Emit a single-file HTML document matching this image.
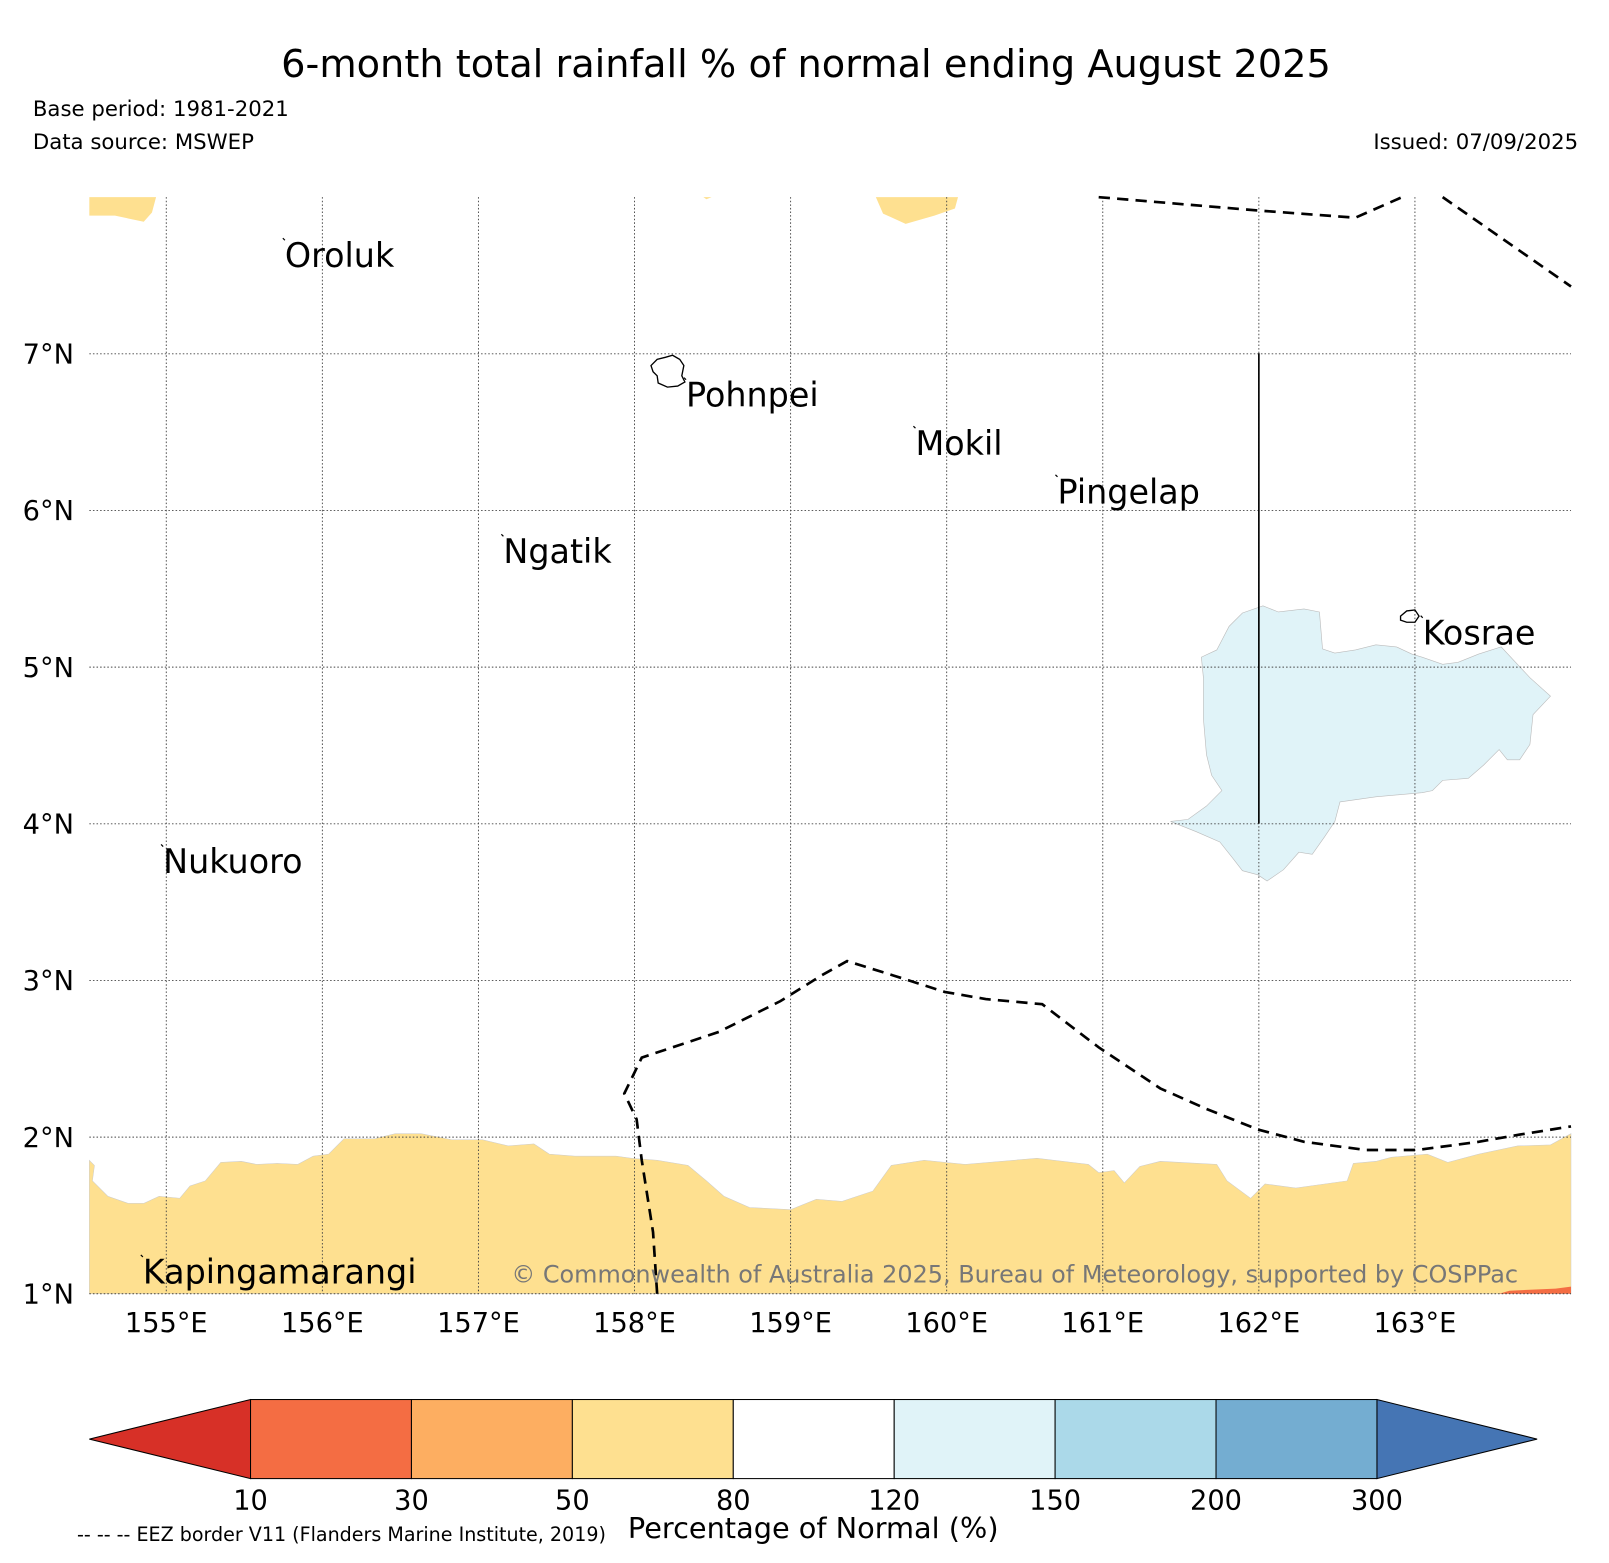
<!DOCTYPE html>
<html><head><meta charset="utf-8"><style>html,body{margin:0;padding:0;background:#fff}svg{display:block}text{font-family:"DejaVu Sans","Liberation Sans",sans-serif}</style></head>
<body>
<svg id="chart" width="1609" height="1563" viewBox="0 0 1567 1522.2" xmlns="http://www.w3.org/2000/svg">
<rect width="1567" height="1522.2" fill="#fff"/>
<text x="785" y="75" font-size="37.3" text-anchor="middle">6-month total rainfall % of normal ending August 2025</text>
<text x="32" y="113" font-size="20.7">Base period: 1981-2021</text>
<text x="32" y="145" font-size="20.7">Data source: MSWEP</text>
<text x="1537" y="145" font-size="20.7" text-anchor="end">Issued: 07/09/2025</text>
<g id="map"></g>
<g id="cbar"></g>
<text x="792" y="1498" font-size="28" text-anchor="middle">Percentage of Normal (%)</text>
<text x="75" y="1501" font-size="18.6">-- -- -- EEZ border V11 (Flanders Marine Institute, 2019)</text>
</svg>
<script>
const lonTicks=[155,156,157,158,159,160,161,162,163];
const latTicks=[7,6,5,4,3,2,1];
const cbLevels=[10,30,50,80,120,150,200,300];
const cbColors=["#f46d43","#fdae61","#fee090","#ffffff","#e0f3f8","#abd9e9","#74add1"];
const cbUnder="#d73027", cbOver="#4575b4";
const islands=[["Oroluk",155.76,7.62],["Pohnpei",158.33,6.73],["Mokil",159.8,6.42],["Pingelap",160.71,6.11],["Ngatik",157.16,5.73],["Kosrae",163.05,5.21],["Nukuoro",154.98,3.75],["Kapingamarangi",154.85,1.13]];
const NS="http://www.w3.org/2000/svg";
const X0=87,X1=1530,Y0=192,Y1=1260,LON0=154.507,LON1=164.0,LAT0=1.0,LAT1=8.0;
const xs=l=>X0+(l-LON0)/(LON1-LON0)*(X1-X0);
const ys=l=>Y1-(l-LAT0)/(LAT1-LAT0)*(Y1-Y0);
const map=document.getElementById('map');
function mk(tag,attrs,parent){const e=document.createElementNS(NS,tag);for(const k in attrs)e.setAttribute(k,attrs[k]);(parent||map).appendChild(e);return e;}
const yellowBand=[[87,1130],[92,1135],[90,1150],[105,1165],[125,1172],[140,1172],[155,1165],[175,1167],[185,1155],[200,1150],[215,1132],[235,1131],[250,1134],[270,1133],[290,1134],[305,1126],[320,1124],[335,1109],[365,1109],[385,1104],[410,1104],[440,1110],[470,1110],[495,1116],[520,1114],[535,1124],[560,1126],[600,1126],[615,1128],[640,1130],[670,1135],[688,1150],[705,1165],[730,1176],[770,1178],[795,1168],[820,1170],[850,1160],[868,1135],[900,1130],[940,1134],[1010,1128],[1060,1134],[1070,1142],[1085,1140],[1095,1152],[1110,1136],[1130,1131],[1185,1134],[1195,1150],[1218,1167],[1232,1153],[1262,1157],[1312,1150],[1318,1133],[1340,1131],[1355,1127],[1390,1124],[1410,1132],[1440,1124],[1478,1116],[1510,1115],[1530,1104],[1530,1260],[87,1260]];
const yellowTL=[[87,192],[152,192],[148,207],[140,216],[112,210],[87,210]];
const yellowTC=[[837,192],[933,192],[930,203],[910,210],[882,218],[860,208],[853,192]];
const blueBlob=[[1140,800],[1157,798],[1175,785],[1190,770],[1180,755],[1175,735],[1172,700],[1172,660],[1170,640],[1185,633],[1197,610],[1210,597],[1230,590],[1245,596],[1270,593],[1285,596],[1288,632],[1300,636],[1320,633],[1340,628],[1360,630],[1375,637],[1385,640],[1405,647],[1420,645],[1440,637],[1462,630],[1490,660],[1510,678],[1493,696],[1490,725],[1480,740],[1468,740],[1460,730],[1445,745],[1430,758],[1405,760],[1395,770],[1385,772],[1340,776],[1305,781],[1300,800],[1290,815],[1278,832],[1265,830],[1250,847],[1234,858],[1225,852],[1210,848],[1200,835],[1188,820],[1165,810]];
const eezTop1=[[1070,192],[1225,205],[1320,212],[1370,190]];
const eezTop2=[[1405,192],[1530,279]];
const eezBottom=[[640,1260],[636,1200],[625,1130],[620,1090],[608,1065],[625,1030],[700,1005],[760,975],[800,950],[825,936],[870,950],[920,966],[960,973],[1015,978],[1070,1020],[1130,1060],[1175,1080],[1225,1100],[1270,1112],[1330,1120],[1380,1120],[1440,1112],[1480,1105],[1530,1097]];
const pts=a=>a.map(p=>p.join(',')).join(' ');
let p;
p=mk('polygon',{points:pts(yellowBand),fill:'#fee090',stroke:'#ccc','stroke-width':0.5});

p=mk('polygon',{points:pts(yellowTL),fill:'#fee090'});

p=mk('polygon',{points:pts(yellowTC),fill:'#fee090'});

p=mk('polygon',{points:'685,192 693,192 688,194',fill:'#fee090'});

p=mk('polygon',{points:'1460,1260 1470,1257 1515,1255 1530,1253 1530,1260',fill:'#f46d43'});

p=mk('polygon',{points:pts(blueBlob),fill:'#e0f3f8',stroke:'#bbb','stroke-width':0.6});

lonTicks.forEach(l=>{
 const g=mk('line',{x1:xs(l),x2:xs(l),y1:Y0,y2:Y1,stroke:'#444','stroke-width':0.9,'stroke-dasharray':'1.5,2'});
 
 const t=mk('text',{x:xs(l),y:1297,'font-size':26.5,'text-anchor':'middle'});t.textContent=l+'°E';
 
});
latTicks.forEach(l=>{
 const g=mk('line',{x1:X0,x2:X1,y1:ys(l),y2:ys(l),stroke:'#444','stroke-width':0.9,'stroke-dasharray':'1.5,2'});
 
 const t=mk('text',{x:72,y:ys(l)+9.5,'font-size':26.5,'text-anchor':'end'});t.textContent=l+'°N';
 
});
p=mk('line',{x1:1226,x2:1226,y1:344,y2:802,stroke:'#000','stroke-width':1.6});

[eezTop1,eezTop2,eezBottom].forEach((a,i)=>{
 const e=mk('polyline',{points:pts(a),fill:'none',stroke:'#000','stroke-width':2.6,'stroke-dasharray':'11,7'});
 
});
p=mk('polygon',{points:'634,356 640,350 648,348 655,346 662,350 666,356 664,366 667,372 660,376 650,377 641,373 640,366 636,362',fill:'none',stroke:'#000','stroke-width':1.3});

p=mk('polygon',{points:'1364,600 1370,595 1378,594 1382,600 1378,606 1370,606 1364,604',fill:'none',stroke:'#000','stroke-width':1.3});

islands.forEach(d=>{
 const t=mk('text',{x:xs(d[1]),y:ys(d[2])+10,'font-size':32.5});t.textContent=d[0];
 
 const m=mk('line',{x1:xs(d[1])-2,y1:ys(d[2])-18,x2:xs(d[1]),y2:ys(d[2])-16,stroke:'#000','stroke-width':1.2});
 
});
p=mk('text',{x:498,y:1249,'font-size':23.3,fill:'#777'});p.textContent='© Commonwealth of Australia 2025, Bureau of Meteorology, supported by COSPPac';

const cb=document.getElementById('cbar');
const CB0=244,CB1=1341,CT=1363,CBt=1440,n=cbColors.length,w=(CB1-CB0)/n,mid=(CT+CBt)/2;
p=mk('polygon',{points:`87,${mid} ${CB0},${CT} ${CB0},${CBt}`,fill:cbUnder,stroke:'#000','stroke-width':1},cb);

p=mk('polygon',{points:`1497,${mid} ${CB1},${CT} ${CB1},${CBt}`,fill:cbOver,stroke:'#000','stroke-width':1},cb);

cbColors.forEach((c,i)=>{
 const r=mk('rect',{x:CB0+i*w,y:CT,width:w,height:CBt-CT,fill:c,stroke:'#000','stroke-width':1},cb);
 
});
cbLevels.forEach((v,i)=>{
 const t=mk('text',{x:CB0+i*w,y:1470,'font-size':26.5,'text-anchor':'middle'},cb);t.textContent=v;
 
});
</script>
</body></html>
